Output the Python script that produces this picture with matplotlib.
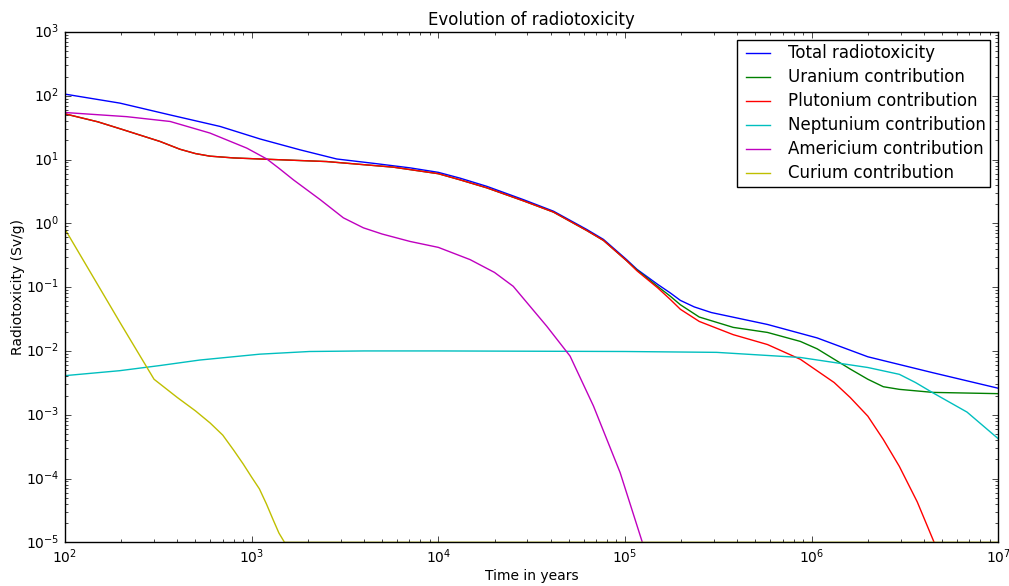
import numpy as np
import matplotlib
matplotlib.use("Agg")
import matplotlib.pyplot as plt

plt.style.use("classic")
plt.rcParams["figure.facecolor"] = "white"
plt.rcParams["savefig.facecolor"] = "white"

# temps (années) et contributions (Sv/g)
t_total = [1e2, 197, 366, 678, 1110, 1816, 2857, 4680, 7070, 1e4, 13100, 18200,
           28600, 41400, 62500, 76700, 102000, 116000, 150000, 175000, 198000,
           235000, 290000, 580000, 1.07e6, 2e6, 4.4e6, 1e7]
total = [106, 76.6, 50, 33, 21, 14.2, 10.2, 8.6, 7.4, 6.3, 5.1, 3.8,
         2.35, 1.55, 0.80, 0.56, 0.27, 0.19, 0.11, 0.081, 0.062,
         0.049, 0.040, 0.026, 0.016, 0.0081, 0.0046, 0.0026]

t_pu = [1e2, 150, 200, 260, 323, 413, 500, 598, 800, 1110, 2520, 5730, 1e4,
        13100, 18200, 28600, 41400, 62500, 76700, 102000, 116000, 150000,
        175000, 198000, 250000, 380000, 580000, 870000, 1.32e6, 1.61e6, 2e6,
        2.42e6, 2.95e6, 3.68e6, 4.47e6, 5e6]
plutonium = [52, 39, 30, 23.5, 19.2, 14.5, 12.4, 11.3, 10.6, 10.2, 9.3, 7.6, 6.0,
             4.8, 3.6, 2.25, 1.5, 0.77, 0.54, 0.26, 0.18, 0.097,
             0.064, 0.045, 0.029, 0.018, 0.0126, 0.0074, 0.0032, 0.00186, 0.00095,
             4.1e-4, 1.55e-4, 4.3e-5, 1.1e-5, 5e-6]

t_u = [1e2, 150, 200, 260, 323, 413, 500, 598, 800, 1110, 2520, 5730, 1e4,
       13100, 18200, 28600, 41400, 62500, 76700, 102000, 116000, 150000,
       175000, 198000, 250000, 380000, 580000, 870000, 1.07e6, 1.61e6, 2e6,
       2.42e6, 2.95e6, 4.47e6, 1e7]
uranium = [52, 39, 30, 23.5, 19.2, 14.5, 12.4, 11.3, 10.6, 10.2, 9.3, 7.6, 6.0,
           4.8, 3.6, 2.25, 1.5, 0.77, 0.54, 0.26, 0.185, 0.102,
           0.072, 0.053, 0.034, 0.0234, 0.0195, 0.0141, 0.0108, 0.0052, 0.0036,
           0.00275, 0.0025, 0.00224, 0.00214]

t_np = [1e2, 196, 322, 527, 1105, 2040, 4000, 1e4, 1e5, 3.1e5, 8.7e5, 2e6,
        2.95e6, 3.6e6, 4.47e6, 6.8e6, 1e7]
neptunium = [0.0041, 0.0049, 0.0059, 0.0072, 0.0089, 0.0098, 0.0100, 0.0100,
             0.0098, 0.0095, 0.0079, 0.0055, 0.0043, 0.0032, 0.0022, 0.0011,
             0.00042]

t_am = [1e2, 214, 366, 598, 942, 1206, 1400, 1675, 2330, 3100, 3970, 5000, 7060,
        1e4, 14800, 20000, 25200, 38100, 50800, 67800, 94200, 123000, 130000]
americium = [54.6, 47, 39.5, 26, 15.1, 10.2, 7.3, 4.8, 2.35, 1.22, 0.85, 0.68, 0.52,
             0.42, 0.27, 0.17, 0.103, 0.0244, 0.0083, 0.00137, 1.24e-4, 1.07e-5, 6e-6]

t_cm = [1e2, 200, 300, 400, 500, 600, 700, 800, 900, 1000, 1100, 1200, 1300,
        1400, 1500, 1e7]
curium = [0.81, 0.026, 0.0036, 0.00186, 0.00115, 7.4e-4, 4.8e-4, 2.8e-4, 1.7e-4,
          1.05e-4, 6.9e-5, 4e-5, 2.3e-5, 1.4e-5, 1e-5, 1e-5]

fig = plt.figure(figsize=(10.09, 5.86), dpi=100)
ax = fig.add_axes([0.0644, 0.0745, 0.925, 0.871])

ax.loglog(t_total, total, "b", label="Total radiotoxicity")
ax.loglog(t_u, uranium, "g", label="Uranium contribution")
ax.loglog(t_pu, plutonium, "r", label="Plutonium contribution")
ax.loglog(t_np, neptunium, "c", label="Neptunium contribution")
ax.loglog(t_am, americium, "m", label="Americium contribution")
ax.loglog(t_cm, curium, "y", label="Curium contribution")

ax.set_xlim(1e2, 1e7)
ax.set_ylim(1e-5, 1e3)
ax.set_title("Evolution of radiotoxicity", fontsize=12)
ax.set_xlabel("Time in years", fontsize=10, labelpad=2)
ax.set_ylabel("Radiotoxicity (Sv/g)", fontsize=10, labelpad=1)
ax.tick_params(labelsize=10)
ax.legend(loc="upper right", fontsize=12, labelspacing=0.36, borderpad=0.25)

fig.savefig("out.png", dpi=100)
